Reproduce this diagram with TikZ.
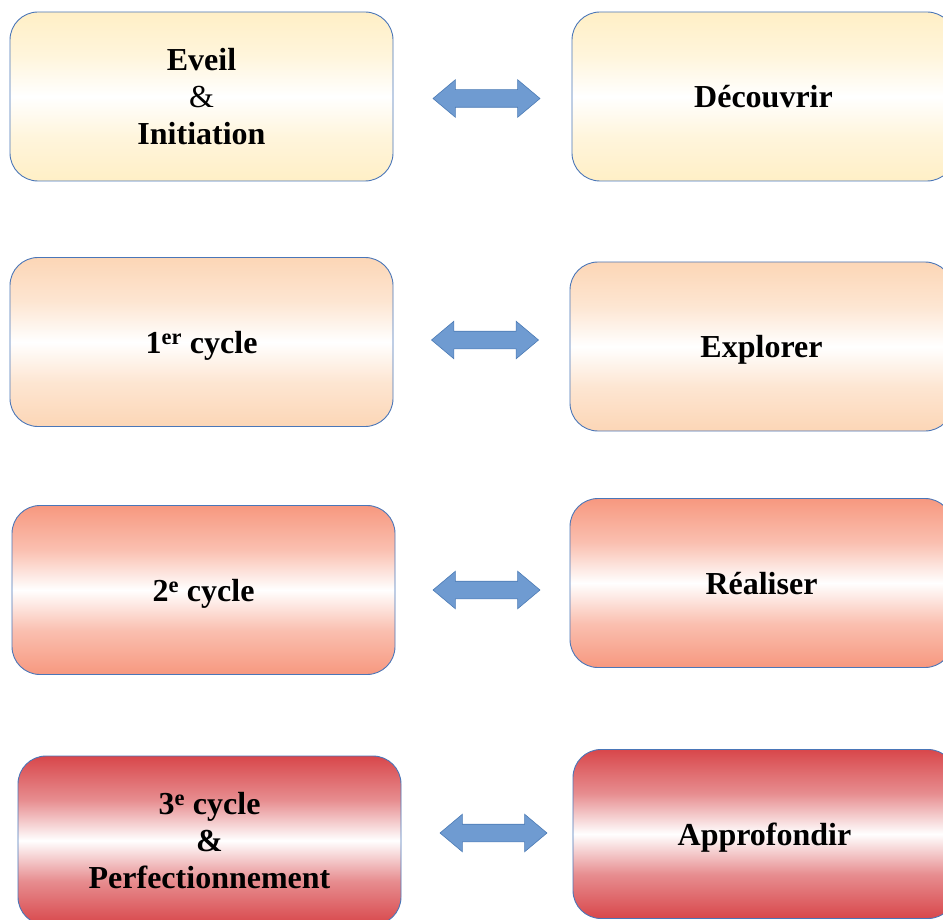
\documentclass[tikz,border=0pt]{standalone}
\usepackage{fontspec}
\setmainfont{Liberation Serif}
\usetikzlibrary{shapes.arrows}
\definecolor{bordure}{HTML}{4A76B8}
\definecolor{bleufleche}{HTML}{6F9BD1}
\definecolor{bordfleche}{HTML}{4C7BB5}
\definecolor{jaune}{HTML}{FFEFC6}
\definecolor{peche}{HTML}{FCD6B6}
\definecolor{saumon}{HTML}{F7987F}
\definecolor{rouge}{HTML}{D8474B}

\newcommand{\bande}[2]{%
	\pgfdeclareverticalshading{#1}{100bp}{color(0bp)=(#2); color(25bp)=(#2);
		color(38bp)=(#2!62!white); color(50bp)=(white); color(62bp)=(#2!62!white);
		color(75bp)=(#2); color(100bp)=(#2)}}
\bande{bandejaune}{jaune}
\bande{bandepeche}{peche}
\bande{bandesaumon}{saumon}
\bande{banderouge}{rouge}

\begin{document}
\begin{tikzpicture}[x=1pt,y=-1pt,
	boite/.style={draw=bordure, line width=0.9pt, rounded corners=28pt,
		minimum width=383pt, minimum height=169pt, inner sep=0pt, text depth=0pt,
		align=center, font=\fontsize{32}{37}\selectfont\bfseries},
	fleche/.style={double arrow, draw=bordfleche, fill=bleufleche, line width=0.6pt,
		minimum height=107pt, minimum width=37pt, inner sep=8.5pt,
		double arrow head extend=10pt, double arrow tip angle=80}]
	\useasboundingbox (0,0) rectangle (943,920);
	% colonne de gauche
	\node[boite, shading=bandejaune] (eveil) at (201.5,96.5) {Eveil\\{\mdseries\&}\\Initiation};
	\node[boite, shading=bandepeche] (cycleun) at (201.5,342) {1\textsuperscript{er} cycle};
	\node[boite, shading=bandesaumon] (cycledeux) at (203.5,590) {2\textsuperscript{e} cycle};
	\node[boite, shading=banderouge] (cycletrois) at (209.5,840.5) {3\textsuperscript{e} cycle\\\&\\Perfectionnement};
	% colonne de droite
	\node[boite, shading=bandejaune] (decouvrir) at (763.5,96.5) {Découvrir};
	\node[boite, shading=bandepeche] (explorer) at (761.5,346.5) {Explorer};
	\node[boite, shading=bandesaumon] (realiser) at (761.5,583) {Réaliser};
	\node[boite, shading=banderouge] (approfondir) at (764.5,834) {Approfondir};
	% fleches
	\node[fleche] (f1) at (486.5,98.5) {};
	\node[fleche] (f2) at (485,340) {};
	\node[fleche] (f3) at (486.5,590) {};
	\node[fleche] (f4) at (493.5,833) {};
\end{tikzpicture}
\end{document}
